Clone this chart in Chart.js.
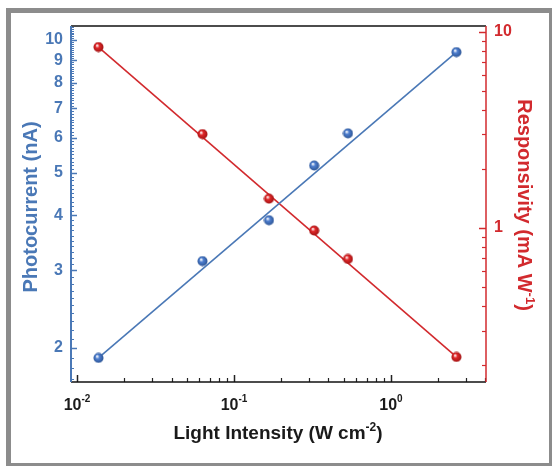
<!DOCTYPE html>
<html>
<head>
<meta charset="utf-8">
<script src="https://cdn.jsdelivr.net/npm/chart.js@4.4.1/dist/chart.umd.min.js"></script>
<style>
html, body { margin: 0; padding: 0; background: #fff; }
#wrap { position: relative; width: 552px; height: 466px; overflow: hidden; }
#frame {
    position: absolute; left: 6px; top: 8px; width: 546px; height: 458px;
    box-sizing: border-box; border: solid #8c8c8c; border-width: 5px 3px 3px 5px;
}
#chart { position: absolute; left: 0; top: 0; }
</style>
</head>
<body>
<div id="wrap">
    <div id="frame"></div>
    <canvas id="chart" width="552" height="466"></canvas>
</div>
<script>
// ==========================================
// DATA
// ==========================================
const intensity = [0.0137, 0.063, 0.167, 0.324, 0.532, 2.61];       // W cm^-2
const photocurrent = [1.90, 3.15, 3.90, 5.19, 6.14, 9.39];         // nA
const responsivity = [8.36, 3.01, 1.41, 0.97, 0.695, 0.22];        // mA W^-1

// fitted lines, end points
const fitIntensity = [0.0137, 2.61];
const photocurrentFit = [1.90, 9.39];
const responsivityFit = [8.36, 0.22];

// tick labels
const leftTicks = [2, 3, 4, 5, 6, 7, 8, 9, 10];
const rightTicks = [1, 10];
const xTicks = [0.01, 0.1, 1];
const xTickLabels = [['10', '-2'], ['10', '-1'], ['10', '0']];

const BLUE = '#4a78b6';
const RED = '#d22a2e';
const FONT = '"Liberation Sans", Arial, sans-serif';

// little shaded ball used as the marker
function sphere(color, dark) {
    const c = document.createElement('canvas');
    c.width = c.height = 11;
    const g = c.getContext('2d');
    const grd = g.createRadialGradient(4, 3.8, 0.3, 5.5, 5.5, 5.5);
    grd.addColorStop(0, '#ffffff');
    grd.addColorStop(0.35, color);
    grd.addColorStop(1, dark);
    g.fillStyle = grd;
    g.beginPath();
    g.arc(5.5, 5.5, 5, 0, Math.PI * 2);
    g.fill();
    return c;
}

function pairs(xs, ys) {
    return xs.map((x, i) => ({ x: x, y: ys[i] }));
}

// minor tick positions for the log axes
function minorTicks(from, to, step) {
    const out = [];
    for (let v = from; v <= to + 1e-9; v += step) out.push(+v.toFixed(4));
    return out;
}
const leftMinor = minorTicks(1.7, 10.7, 0.1);
const rightMinor = [0.2, 0.3, 0.4, 0.5, 0.6, 0.7, 0.8, 0.9, 2, 3, 4, 5, 6, 7, 8, 9];
const xMinor = [0.02, 0.03, 0.04, 0.05, 0.06, 0.07, 0.08, 0.09,
                0.2, 0.3, 0.4, 0.5, 0.6, 0.7, 0.8, 0.9, 2, 3, 4];

// ==========================================
// AXES, INWARD TICKS AND TITLES
// ==========================================
const decor = {
    id: 'decor',
    afterDraw(chart) {
        const ctx = chart.ctx;
        const a = chart.chartArea;
        const sx = chart.scales.x, sy = chart.scales.y, sy2 = chart.scales.y2;
        ctx.save();

        function line(x1, y1, x2, y2, color, w) {
            ctx.strokeStyle = color;
            ctx.lineWidth = w;
            ctx.beginPath();
            ctx.moveTo(x1, y1);
            ctx.lineTo(x2, y2);
            ctx.stroke();
        }

        // ticks (pointing into the plot)
        leftMinor.forEach(v => {
            const p = Math.round(sy.getPixelForValue(v)) + 0.5;
            if (p > a.top && p < a.bottom) line(a.left, p, a.left + 3, p, BLUE, 1);
        });
        leftTicks.forEach(v => {
            const p = Math.round(sy.getPixelForValue(v)) + 0.5;
            line(a.left, p, a.left + 6, p, BLUE, 1.5);
        });
        rightMinor.forEach(v => {
            const p = Math.round(sy2.getPixelForValue(v)) + 0.5;
            line(a.right, p, a.right - 4, p, RED, 1.2);
        });
        rightTicks.forEach(v => {
            const p = Math.round(sy2.getPixelForValue(v)) + 0.5;
            line(a.right, p, a.right - 7, p, RED, 1.5);
        });
        xMinor.forEach(v => {
            const p = Math.round(sx.getPixelForValue(v)) + 0.5;
            line(p, a.bottom, p, a.bottom - 4, '#222', 1.2);
        });
        xTicks.forEach(v => {
            const p = Math.round(sx.getPixelForValue(v)) + 0.5;
            line(p, a.bottom, p, a.bottom - 7, '#222', 1.5);
        });

        // axis lines
        line(a.left, a.top, a.right, a.top, '#111', 1.5);
        line(a.left, a.bottom, a.right, a.bottom, '#111', 1.5);
        line(a.left, a.top, a.left, a.bottom, BLUE, 2);
        line(a.right, a.top, a.right, a.bottom, RED, 1.5);

        // x tick labels with superscripts
        ctx.fillStyle = '#1a1a1a';
        ctx.textBaseline = 'alphabetic';
        ctx.textAlign = 'left';
        xTicks.forEach((v, i) => {
            const p = sx.getPixelForValue(v);
            const [base, exp] = xTickLabels[i];
            ctx.font = 'bold 16px ' + FONT;
            const wb = ctx.measureText(base).width;
            ctx.font = 'bold 10px ' + FONT;
            const we = ctx.measureText(exp).width;
            const x0 = p - (wb + we) / 2;
            ctx.font = 'bold 16px ' + FONT;
            ctx.fillText(base, x0, 410);
            ctx.font = 'bold 10px ' + FONT;
            ctx.fillText(exp, x0 + wb, 402);
        });

        // titles, with a raised part where needed
        function titleWithSup(parts, cx, cy, color) {
            ctx.fillStyle = color;
            let total = 0;
            parts.forEach(pt => {
                ctx.font = 'bold ' + pt.size + 'px ' + FONT;
                total += ctx.measureText(pt.t).width;
            });
            let x = cx - total / 2;
            parts.forEach(pt => {
                ctx.font = 'bold ' + pt.size + 'px ' + FONT;
                ctx.fillText(pt.t, x, cy + pt.dy);
                x += ctx.measureText(pt.t).width;
            });
        }
        titleWithSup([
            { t: 'Light Intensity (W cm', size: 19, dy: 0 },
            { t: '-2', size: 12, dy: -8 },
            { t: ')', size: 19, dy: 0 }
        ], 278, 439, '#1a1a1a');

        // left title
        ctx.save();
        ctx.translate(37, 207);
        ctx.rotate(-Math.PI / 2);
        titleWithSup([{ t: 'Photocurrent (nA)', size: 20, dy: 0 }], 0, 0, BLUE);
        ctx.restore();

        // right title
        ctx.save();
        ctx.translate(518, 205);
        ctx.rotate(Math.PI / 2);
        titleWithSup([
            { t: 'Responsivity (mA W', size: 20, dy: 0 },
            { t: '-1', size: 13, dy: -8 },
            { t: ')', size: 20, dy: 0 }
        ], 0, 0, RED);
        ctx.restore();

        ctx.restore();
    }
};

// ==========================================
// CHART
// ==========================================
const ctx = document.getElementById('chart').getContext('2d');

new Chart(ctx, {
    type: 'scatter',
    data: {
        datasets: [
            {
                label: 'Photocurrent',
                data: pairs(intensity, photocurrent),
                yAxisID: 'y',
                pointStyle: sphere('#4f7fcf', '#28508f'),
                pointRadius: 5.5
            },
            {
                label: 'Responsivity',
                data: pairs(intensity, responsivity),
                yAxisID: 'y2',
                pointStyle: sphere('#e0282a', '#9a1010'),
                pointRadius: 5.5
            },
            {
                label: 'Photocurrent fit',
                data: pairs(fitIntensity, photocurrentFit),
                yAxisID: 'y',
                showLine: true,
                borderColor: BLUE,
                borderWidth: 1.6,
                pointRadius: 0
            },
            {
                label: 'Responsivity fit',
                data: pairs(fitIntensity, responsivityFit),
                yAxisID: 'y2',
                showLine: true,
                borderColor: RED,
                borderWidth: 1.6,
                pointRadius: 0
            }
        ]
    },
    options: {
        responsive: false,
        animation: false,
        layout: { padding: { top: 26, left: 0, right: 0, bottom: 0 } },
        plugins: { legend: { display: false }, tooltip: { enabled: false } },
        scales: {
            x: {
                type: 'logarithmic',
                position: 'bottom',
                min: 0.00916,
                max: 4.03,
                grid: { display: false },
                border: { display: false },
                ticks: { display: false },
                afterFit: s => { s.height = 84; }
            },
            y: {
                type: 'logarithmic',
                position: 'left',
                min: 1.675,
                max: 10.76,
                grid: { display: false, drawTicks: false },
                border: { display: false },
                afterBuildTicks: s => { s.ticks = leftTicks.map(v => ({ value: v })); },
                ticks: {
                    autoSkip: false,
                    padding: 8,
                    color: BLUE,
                    font: { family: FONT, size: 16, weight: 'bold' },
                    callback: v => String(v)
                },
                afterFit: s => { s.width = 71; }
            },
            y2: {
                type: 'logarithmic',
                position: 'right',
                min: 0.164,
                max: 10.7,
                grid: { display: false, drawTicks: false },
                border: { display: false },
                afterBuildTicks: s => { s.ticks = rightTicks.map(v => ({ value: v })); },
                ticks: {
                    autoSkip: false,
                    padding: 8,
                    color: RED,
                    font: { family: FONT, size: 16, weight: 'bold' },
                    callback: v => String(v)
                },
                afterFit: s => { s.width = 66; }
            }
        }
    },
    plugins: [decor]
});
</script>
</body>
</html>
